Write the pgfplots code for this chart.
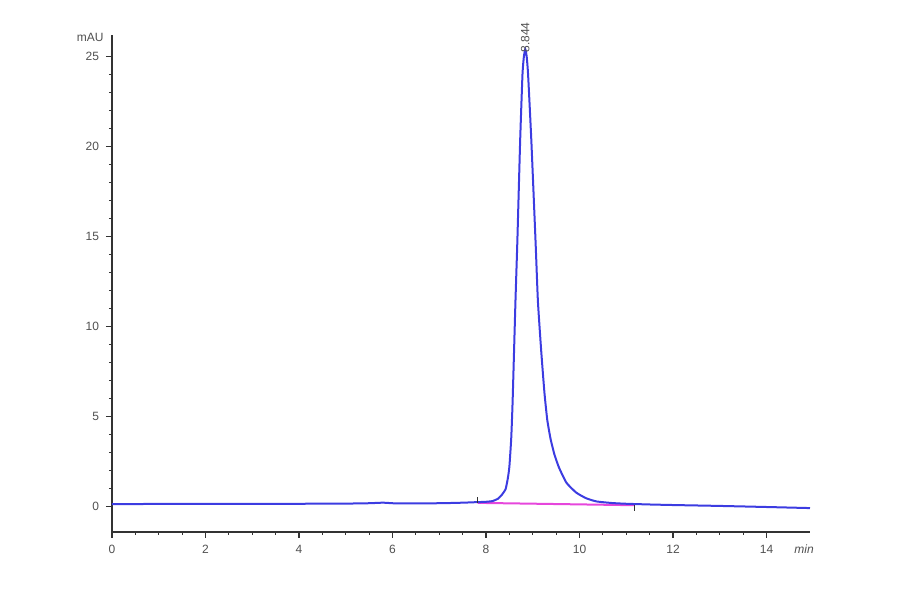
\documentclass[border=0pt]{standalone}
\usepackage{fontspec}
\setmainfont{Liberation Sans}
\usepackage{pgfplots}
\pgfplotsset{compat=1.18}

\definecolor{trace}{RGB}{60,60,225}
\definecolor{base}{RGB}{230,70,220}
\definecolor{txt}{RGB}{80,80,80}

\pgfplotstableread{
x y
0 0.11
1 0.12
2 0.12
3 0.13
4 0.13
5 0.14
5.5 0.16
5.8 0.19
6.1 0.15
7 0.16
7.5 0.19
7.8 0.22
8.0 0.24
8.14 0.28
8.25 0.40
8.33 0.60
8.42 0.95
8.47 1.6
8.50 2.2
8.54 3.8
8.57 5.9
8.63 11.4
8.67 14.7
8.73 20.3
8.78 24.0
8.81 25.0
8.84 25.4
8.87 25.0
8.90 24.0
8.97 20.3
9.06 14.7
9.11 11.4
9.18 8.65
9.25 6.3
9.31 4.8
9.38 3.75
9.46 2.9
9.56 2.15
9.72 1.3
9.93 0.75
10.14 0.44
10.36 0.26
10.7 0.17
11.0 0.13
11.5 0.09
12 0.06
13 0.01
14 -0.05
14.93 -0.11
}\chrom

\begin{document}
\begin{tikzpicture}
\useasboundingbox (-56pt,-31pt) rectangle (394pt,266pt);
\begin{axis}[
    scale only axis,
    width=349pt, height=248.5pt,
    xmin=0, xmax=14.93,
    ymin=-1.44, ymax=26.2,
    axis x line*=bottom,
    axis y line*=left,
    axis line style={-, line width=0.8pt, black!80},
    xtick={0,2,...,14},
    ytick={0,5,...,25},
    minor x tick num=3,
    minor y tick num=4,
    tick align=outside,
    major tick length=3pt,
    minor tick length=1.5pt,
    tick style={black!80, line width=0.6pt},
    ticklabel style={font=\fontsize{6}{7}\selectfont, text=txt},
    /pgf/number format/assume math mode=true,
    clip=false,
  ]
  \addplot[base, line width=1pt] coordinates {(7.82,0.18) (11.17,0.05)};
  \addplot[trace, line width=1pt, smooth, tension=0.3] table {\chrom};
  \addplot[black!80, line width=0.5pt] coordinates {(7.82,0.18) (7.82,0.5)};
  \addplot[black!80, line width=0.5pt] coordinates {(11.17,0.05) (11.17,-0.25)};
  \node[rotate=90, anchor=west, inner sep=1pt, text=txt,
    font=\fontsize{6}{7}\selectfont] at (axis cs:8.84,25.1) {8.844};
  \node[anchor=east, inner sep=0pt, text=txt,
    font=\fontsize{6}{7}\selectfont] at ([xshift=-4pt,yshift=-1pt]rel axis cs:0,1) {mAU};
  \node[anchor=north west, inner sep=0pt, text=txt,
    font=\itshape\fontsize{6}{7}\selectfont] at ([xshift=-8pt,yshift=-6pt]rel axis cs:1,0) {min};
\end{axis}
\end{tikzpicture}
\end{document}
